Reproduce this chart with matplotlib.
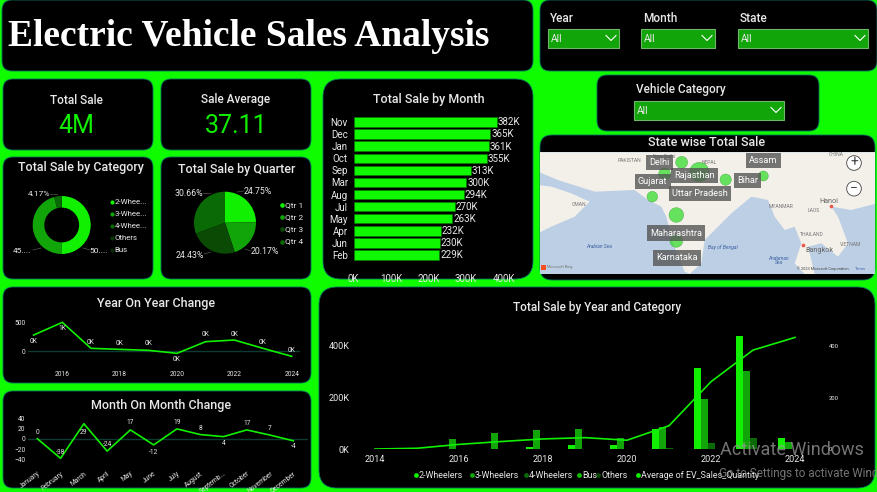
import matplotlib
matplotlib.use('Agg')
import matplotlib.pyplot as plt
import numpy as np
from matplotlib.patches import FancyBboxPatch, Polygon, Circle, Rectangle

W, H = 877, 492
plt.rcParams['font.family'] = ['Roboto', 'DejaVu Sans']

BG = '#0ffb00'
G1 = '#10f000'
G2 = '#12a50a'
G3 = '#0a6a05'
G4 = '#0a4a04'
TXT = '#e8e8e8'

# data
months = ['Nov', 'Dec', 'Jan', 'Oct', 'Sep', 'Mar', 'Aug', 'Jul', 'May', 'Apr', 'Jun', 'Feb']
month_sales = [382, 365, 361, 355, 313, 300, 294, 270, 263, 232, 230, 229]

categories = ['2-Whee...', '3-Whee...', '4-Whee...', 'Others', 'Bus']
category_share = [50.2, 45.6, 4.17, 0.02, 0.01]
quarters = ['Qtr 1', 'Qtr 2', 'Qtr 3', 'Qtr 4']
quarter_share = [24.75, 20.17, 24.43, 30.66]

yoy_years = list(range(2015, 2025))
yoy_values = [282, 506, 47, 29, 12, -41, 165, 194, 47, -94]

mom_months = ['January', 'February', 'March', 'April', 'May', 'June', 'July', 'August',
              'Septemb...', 'October', 'November', 'December']
mom_values = [0, -38, 29, -24, 17, -12, 19, 8, 4, 17, 7, -4]

years = list(range(2014, 2025))
sales_2w = [0, 0, 0.5, 0.5, 8, 17, 17, 80, 315, 437, 42]
sales_3w = [0, 0.5, 40, 62, 75, 78, 42, 87, 193, 304, 28]
sales_4w = [0, 0.5, 1, 1, 1, 2, 2, 6, 23, 42, 3]
sales_bus = [0, 0, 0.3, 0.3, 0.3, 0.3, 0.3, 0.5, 0.8, 1, 0.2]
sales_oth = [0, 0, 0.1, 0.1, 0.1, 0.1, 0.1, 0.2, 0.3, 0.4, 0.1]
avg_qty = [1, 4, 19, 30, 40, 45, 35, 91, 261, 383, 432]

states = ['Delhi', 'Rajasthan', 'Gujarat', 'Uttar Pradesh', 'Bihar', 'Assam', 'Maharashtra', 'Karnataka']
state_lon = [431, 484, 343, 380, 563, 676, 415, 415]
state_lat = [97, 126, 200, 132, 149, 138, 255, 333]
state_size = [18, 29, 16, 18, 17, 15, 22, 19]
label_x = [364, 470, 344, 486, 628, 676, 414, 416]
label_y = [97, 137, 155, 191, 152, 92, 309, 384]

land_main = [(130, 67), (1017, 67), (1017, 220), (940, 240), (880, 230), (900, 260), (930, 340), (900, 380),
             (850, 340), (810, 350), (830, 432), (800, 432), (770, 400), (790, 340), (770, 290), (740, 300),
             (710, 260), (690, 210), (640, 200), (580, 250), (500, 330), (490, 400), (455, 432), (440, 425),
             (405, 340), (385, 260), (370, 230), (330, 210), (290, 180), (170, 185), (60, 150), (0, 125), (0, 67)]
land_arabia = [(0, 165), (40, 170), (100, 190), (155, 215), (110, 260), (40, 290), (0, 310)]
map_names = [('PAKISTAN', 275, 90), ('NEPAL', 515, 97), ('OMAN', 122, 222), ('MYANMAR', 728, 228), ('LAOS', 826, 243),
             ('THAILAND', 820, 315), ('VIETNAM', 938, 342), ('CHINA', 895, 72), ('New Delhi', 378, 81)]
map_seas = [('Arabian Sea', 184, 349), ('Bay of Bengal', 555, 352), ('Andaman\nSea', 722, 392)]

fig = plt.figure(figsize=(W / 100, H / 100), dpi=100, facecolor=BG)
bg = fig.add_axes([0, 0, 1, 1])
bg.set_xlim(0, W)
bg.set_ylim(H, 0)
bg.axis('off')


def panel(x0, y0, x1, y1, r=10):
    bg.add_patch(FancyBboxPatch((x0 + r, y0 + r), x1 - x0 - 2 * r, y1 - y0 - 2 * r,
                                boxstyle='round,pad=%d,rounding_size=%d' % (r, r),
                                fc='black', ec='#0b6e5f', lw=0.6))


def px_axes(x0, y0, x1, y1):
    ax = fig.add_axes([x0 / W, 1 - y1 / H, (x1 - x0) / W, (y1 - y0) / H])
    ax.patch.set_alpha(0)
    return ax


def label(x, y, s, size=7, ha='center', color=TXT, **kw):
    bg.text(x, y, s, fontsize=size, ha=ha, va='center', color=color, **kw)


def slicer(x0, y0, x1, y1, name, name_x):
    label(name_x, y0 - 11, name, size=8.5, ha='left', fontweight='medium')
    bg.add_patch(Rectangle((x0, y0), x1 - x0, y1 - y0, fc='#12a50a', ec='#6fb56a', lw=0.8))
    label(x0 + 3, (y0 + y1) / 2 + 1, 'All', size=7.5, ha='left')
    cx = x1 - 8
    cy = (y0 + y1) / 2
    bg.plot([cx - 5, cx, cx + 5], [cy - 3, cy + 2, cy - 3], color='white', lw=0.8)


for box in [(2, 0, 533, 71), (540, 0, 877, 71), (597, 75, 819, 131), (3, 79, 153, 150), (161, 79, 311, 150),
            (3, 157, 153, 279), (161, 157, 311, 279), (3, 287, 311, 383), (3, 391, 311, 488)]:
    panel(*box)
panel(323, 79, 533, 279, r=18)
panel(319, 287, 875, 488, r=18)
panel(540, 135, 875, 280, r=12)

bg.text(8, 37, 'Electric Vehicle Sales Analysis', fontsize=27, family='Liberation Serif', fontweight='bold',
        color='white', ha='left', va='center')

slicer(548, 29, 619, 48, 'Year', 550)
slicer(641, 29, 715, 48, 'Month', 643)
slicer(738, 29, 868, 48, 'State', 740)
slicer(634, 101, 784, 120, 'Vehicle Category', 636)

label(76, 100, 'Total Sale', size=8.5, fontweight='medium')
label(76, 126, '4M', size=18, color=G1)
label(236, 99, 'Sale Average', size=8.5, fontweight='medium')
label(236, 126, '37.11', size=18, color=G1)

# donut
label(81, 168, 'Total Sale by Category', size=9, fontweight='medium')
ax = px_axes(32.7, 196, 90.7, 254)
ax.pie(category_share, radius=1, startangle=90, counterclock=False,
       colors=[G1, G2, G3, '#083a04', '#052a03'], wedgeprops=dict(width=0.4))
ax.set_xlim(-1, 1)
ax.set_ylim(-1, 1)
for txt, x, y, lx in [('4.17%', 39, 193.5, [50, 57, 57]), ('45....', 22, 251, [33, 41, 41]), ('50....', 99, 251, [84, 91, 91])]:
    label(x, y, txt, size=6)
bg.plot([50, 57], [193.5, 193.5], color='#555555', lw=0.5)
bg.plot([33, 41], [250, 248], color='#555555', lw=0.5)
bg.plot([83, 90], [248, 250], color='#555555', lw=0.5)
for i, c in enumerate(categories):
    yy = 201.5 + 12 * i
    bg.scatter([112], [yy], s=9, color=[G1, G2, G3, '#083a04', '#052a03'][i], lw=0)
    label(114.5, yy, c, size=5.7, ha='left')

# quarter pie
label(237, 170, 'Total Sale by Quarter', size=9, fontweight='medium')
ax = px_axes(194, 191.7, 256, 253.7)
ax.pie(quarter_share, radius=1, startangle=90, counterclock=False, colors=[G1, G2, G4, G3])
ax.set_xlim(-1, 1)
ax.set_ylim(-1, 1)
for txt, x, y in [('24.75%', 258, 191), ('20.17%', 265, 251), ('24.43%', 190, 255), ('30.66%', 189, 193)]:
    label(x, y, txt, size=6.3)
bg.plot([237, 244], [192, 191], color='#555555', lw=0.5)
bg.plot([245, 251], [249, 251], color='#555555', lw=0.5)
bg.plot([204, 211], [254, 252], color='#555555', lw=0.5)
bg.plot([203, 210], [193, 193], color='#555555', lw=0.5)
for i, q in enumerate(quarters):
    yy = 205 + 12.2 * i
    bg.scatter([281.5], [yy], s=11, color=[G1, G2, G4, G3][i], lw=0)
    label(285, yy, q, size=6, ha='left')

# month bars
label(429, 100, 'Total Sale by Month', size=9, fontweight='medium')
ax = px_axes(353.5, 116, 503.5, 261)
ax.barh(range(len(months)), month_sales, height=0.78, color='#10f800', edgecolor='#0a7a05', lw=0.4)
ax.set_xlim(0, 400)
ax.set_ylim(11.5, -0.5)
ax.set_yticks(range(len(months)), months)
ax.set_xticks([0, 100, 200, 300, 400], ['0K', '100K', '200K', '300K', '400K'])
ax.tick_params(length=0, labelsize=7, colors=TXT, pad=4)
ax.tick_params(axis='x', pad=9)
for i, v in enumerate(month_sales):
    ax.text(v + 3, i + 0.03, '%dK' % v, color=TXT, fontsize=7, va='center')
for s in ax.spines.values():
    s.set_visible(False)

# map
ax = px_axes(540, 152, 875, 274)
ax.set_xlim(6, 1011)
ax.set_ylim(432, 66)
ax.axis('off')
ax.add_patch(Rectangle((0, 60), 1020, 380, fc='#bccfe4', ec='none'))
ax.add_patch(Polygon(land_main, fc='#f3f0ea', ec='none'))
ax.add_patch(Polygon(land_arabia, fc='#f3f0ea', ec='none'))
for name, x, y in map_names:
    ax.text(x, y, name, fontsize=3.6, color='#777777', ha='center', va='center', clip_on=True)
for name, x, y in map_seas:
    ax.text(x, y, name, fontsize=3.6, color='#3f62a5', ha='center', va='center', style='italic', linespacing=0.9)
ax.text(845, 214, 'Hanoi', fontsize=5.2, color='#666666', va='center')
ax.text(803, 362, 'Bangkok', fontsize=5.2, color='#666666', va='center')
ax.scatter([878, 796], [228, 346], s=7, color='#e8584a', lw=0)
ax.scatter(state_lon, state_lat, s=[(s / 3 * 1.44) ** 2 for s in state_size], color='#2fdc28', alpha=0.72, lw=0.3,
           edgecolor='#2a8a25', zorder=3)
for st, x, y in zip(states, label_x, label_y):
    ax.text(x, y, st, fontsize=6.6, color='white', ha='center', va='center', zorder=5,
            bbox=dict(boxstyle='square,pad=0.35', fc='#555555', ec='none', alpha=0.8))
for y, sign in [(99, '+'), (176, '\u2212')]:
    ax.add_patch(Circle((948, y), 22, fc='white', ec='#444444', lw=0.6, zorder=6))
    ax.text(948, y - 1, sign, fontsize=10, color='#444444', ha='center', va='center', zorder=7)
ax.text(28, 412, 'Microsoft Bing', fontsize=2.8, color='#777777', va='center')
ax.add_patch(Rectangle((10, 405), 14, 14, fc='#f25022', ec='none'))
ax.text(778, 416, '\u00a9 2023 Microsoft Corporation', fontsize=2.8, color='#444444', va='center')
ax.text(950, 416, 'Terms', fontsize=2.8, color='#3f62a5', va='center')
label(707, 143, 'State wise Total Sale', size=9, fontweight='medium')

# year on year
label(156, 304, 'Year On Year Change', size=9, fontweight='medium')
ax = px_axes(28, 312, 300, 372)
x0_year = 2016 - (62.3 - 28) / 28.67
ax.set_xlim(x0_year, x0_year + 272 / 28.67)
ax.set_ylim(-(372 - 351) / 0.0566, (351 - 312) / 0.0566)
ax.axhline(0, color='#0e3a34', lw=1)
ax.plot(yoy_years, yoy_values, color=G1, lw=1.2)
ax.set_xticks([2016, 2018, 2020, 2022, 2024], ['2016', '2018', '2020', '2022', '2024'])
ax.set_yticks([0, 500], ['0', '500'])
ax.tick_params(length=0, labelsize=4.8, colors=TXT, pad=2)
ax.tick_params(axis='x', pad=-1)
yoy_labels = ['0K', '1K', '0K', '0K', '0K', '0K', '0K', '0K', '0K', '0K']
yoy_off = [-110, -100, 110, 110, 120, -105, 125, 105, 110, 110]
for x, v, t, d in zip(yoy_years, yoy_values, yoy_labels, yoy_off):
    ax.text(x, v + d, t, fontsize=4.8, color=TXT, ha='center', va='center')
for s in ax.spines.values():
    s.set_visible(False)

# month on month
label(161, 405, 'Month On Month Change', size=9, fontweight='medium')
ax = px_axes(28, 412, 308, 466)
ax.set_xlim(-0.4, 0.0 + (308 - 28) / 23.27 - 0.4)
ax.set_ylim(-(466 - 438.7) / 0.517, (438.7 - 412) / 0.517)
ax.axhline(0, color='#0e3a34', lw=1)
ax.plot(range(12), mom_values, color=G1, lw=1.2)
ax.set_xticks(range(12), mom_months, rotation=38, ha='right', rotation_mode='anchor')
ax.set_yticks([-40, -20, 0, 20, 40])
ax.tick_params(length=0, labelsize=4.8, colors=TXT, pad=2)
ax.tick_params(axis='x', pad=3)
mom_off = [12, 12, -17, 12, 14, -14, 12, 12, -13, 12, 12, -11]
for i, (v, d) in enumerate(zip(mom_values, mom_off)):
    ax.text(i, v + d, str(v), fontsize=4.8, color=TXT, ha='center', va='center')
for s in ax.spines.values():
    s.set_visible(False)

# year and category
label(597, 307, 'Total Sale by Year and Category', size=8.5, fontweight='medium')
ax = px_axes(358, 330, 812, 449.3)
ax.set_xlim(2014 - 17 / 42, 2014 + (812 - 375) / 42)
ax.set_ylim(0, (449.3 - 330) / 0.259)
xs = np.array(years)
series = [(sales_2w, G1), (sales_3w, G2), (sales_4w, G3), (sales_bus, '#0fc000'), (sales_oth, G4)]
bar_w = 1 / 6
for i, (vals, c) in enumerate(series):
    ax.bar(xs + (i - 2) * bar_w, vals, width=bar_w, color=c, lw=0)
ax.set_xticks([2014, 2016, 2018, 2020, 2022, 2024], ['2014', '2016', '2018', '2020', '2022', '2024'])
ax.set_yticks([0, 200, 400], ['0K', '200K', '400K'])
ax.tick_params(length=0, labelsize=6.6, colors=TXT, pad=4)
ax.tick_params(axis='y', pad=6)
for s in ax.spines.values():
    s.set_visible(False)
ax2 = ax.twinx()
ax2.set_ylim(ax.get_ylim())
ax2.plot(xs, avg_qty, color=G1, lw=1.2)
ax2.set_yticks([0, 200, 400], ['0', '200', '400'])
ax2.tick_params(length=0, labelsize=4.2, colors=TXT, pad=12)
for s in ax2.spines.values():
    s.set_visible(False)

leg = [('2-Wheelers', 416, G1), ('3-Wheelers', 472, G2), ('4-Wheelers', 526, G3), ('Bus', 579, '#0fc000'),
       ('Others', 598, G4), ('Average of EV_Sales_Quantity', 638, G1)]
for name, x, c in leg:
    bg.scatter([x], [475], s=12, color=c, lw=0)
    label(x + 3, 475, name, size=6.4, ha='left')

fig.text(720 / W, 1 - 450 / H, 'Activate Windows', fontsize=13, color='#9a9a9a', alpha=0.75, va='center')
fig.text(693 / W + 0.03, 1 - 473 / H, 'Go to Settings to activate Windows.', fontsize=8.5, color='#9a9a9a', alpha=0.75, va='center')

fig.savefig('out.png', dpi=100, facecolor=BG)
